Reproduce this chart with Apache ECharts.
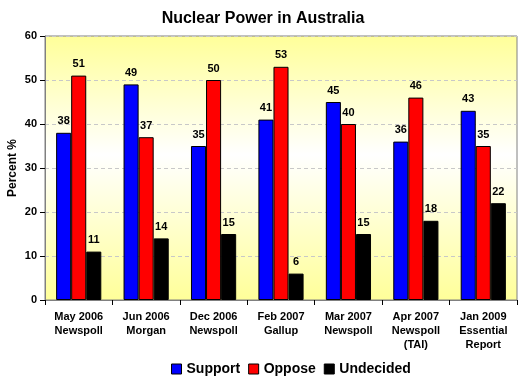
<!DOCTYPE html>
<html><head><meta charset="utf-8">
<script src="https://cdn.jsdelivr.net/npm/echarts@6/dist/echarts.min.js"></script>
<style>html,body{margin:0;padding:0;background:#fff}#c{width:526px;height:384px}</style>
</head><body><div id="c"></div>
<script>
const categories = ['May 2006\nNewspoll','Jun 2006\nMorgan','Dec 2006\nNewspoll','Feb 2007\nGallup','Mar 2007\nNewspoll','Apr 2007\nNewspoll\n(TAI)','Jan 2009\nEssential\nReport'];
const support = [38,49,35,41,45,36,43];
const oppose = [51,37,50,53,40,46,35];
const undecided = [11,14,15,6,15,18,22];
const yTicks = {min:0, max:60, interval:10};

const font = 'Arial, "Liberation Sans", sans-serif';
function bar(name, data, color) {
  return {
    name, type:'bar', data, barGap:'0%', barCategoryGap:'33%',
    itemStyle:{color, borderColor:'#000', borderWidth:1},
    label:{show:true, position:'top', distance:6, color:'#000', fontFamily:font, fontWeight:'bold', fontSize:11}
  };
}
const chart = echarts.init(document.getElementById('c'), null, {renderer:'canvas'});
chart.setOption({
  animation:false,
  backgroundColor:'#fff',
  title:{text:'Nuclear Power in Australia', left:'center', top:6,
    textStyle:{fontFamily:font, fontWeight:'bold', fontSize:16, color:'#000'}},
  legend:{bottom:3, left:166, itemWidth:10, itemHeight:10, itemGap:8, icon:'rect',
    itemStyle:{borderColor:'#000', borderWidth:1},
    textStyle:{fontFamily:font, fontWeight:'bold', fontSize:14, color:'#000'},
    data:['Support','Oppose','Undecided']},
  grid:{left:45, right:9, top:36, bottom:84, show:true, borderWidth:1, borderColor:'#808080',
    outerBoundsMode:'none', containLabel:false,
    backgroundColor:{type:'linear', x:0, y:0, x2:0, y2:1, colorStops:[
      {offset:0, color:'#FFFF99'},{offset:0.45, color:'#FFFFFF'},{offset:1, color:'#FFFF99'}]}},
  xAxis:{type:'category', data:categories,
    axisLine:{lineStyle:{color:'#808080'}},
    axisTick:{show:true, length:5, lineStyle:{color:'#000'}},
    axisLabel:{interval:0, margin:10, color:'#000', fontFamily:font, fontWeight:'bold', fontSize:11, lineHeight:14}},
  yAxis:{type:'value', min:yTicks.min, max:yTicks.max, interval:yTicks.interval,
    name:'Percent %', nameLocation:'middle', nameGap:26, nameMoveOverlap:false,
    nameTextStyle:{fontFamily:font, fontWeight:'bold', fontSize:12, color:'#000'},
    axisLine:{show:true, lineStyle:{color:'#808080'}},
    axisTick:{show:true, length:5, lineStyle:{color:'#000'}},
    axisLabel:{color:'#000', fontFamily:font, fontWeight:'bold', fontSize:11, margin:8},
    splitLine:{lineStyle:{color:'#C8C8C8', type:[4,3]}}},
  series:[bar('Support', support, '#0000FF'), bar('Oppose', oppose, '#FF0000'), bar('Undecided', undecided, '#000000')]
});
</script></body></html>
